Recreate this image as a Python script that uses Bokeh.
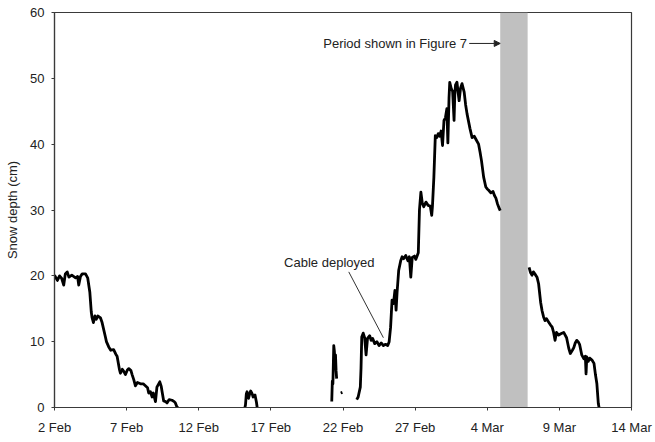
from bokeh.plotting import figure
from bokeh.models import Range1d, FixedTicker, BoxAnnotation, Arrow, NormalHead, Label
from bokeh.embed import file_html
from bokeh.resources import INLINE

NAN = float("nan")

# days since 2 Feb; NaN separates gaps in the record
days = [0.0, 0.2, 0.35, 0.5, 0.64, 0.75, 0.88, 1.0, 1.2, 1.46, 1.6, 1.68, 1.8, 1.92, 2.15, 2.3, 2.45, 2.55,
        2.6, 2.7, 2.8, 2.9, 3.0, 3.19, 3.3, 3.53, 3.6, 3.76, 3.9, 4.1, 4.25, 4.34, 4.5, 4.57, 4.7, 4.8, 4.92,
        5.05, 5.15, 5.3, 5.38, 5.5, 5.61, 5.75, 5.96, 6.15, 6.3, 6.45, 6.53, 6.65, 6.77, 6.85, 7.0, 7.1, 7.3,
        7.4, 7.46, 7.57, 7.7, 7.8, 7.95, 8.15, 8.3, 8.38, 8.5, 8.6, NAN,
        13.2, 13.24, 13.3, 13.35, 13.45, 13.52, 13.6, 13.7, 13.77, 13.9, 14.0, 14.05, NAN,
        19.22, 19.26, 19.3, 19.36, 19.4, 19.44, 19.48, 19.52, 19.56, NAN,
        19.84, 19.96, NAN,
        20.95, 21.05, 21.2, 21.25, 21.3, 21.4, 21.5, 21.6, 21.7, 21.85, 21.95, 22.05, 22.2, 22.35, 22.5, 22.65,
        22.8, 22.95, 23.1, 23.2, 23.3, 23.4, 23.5, 23.6, 23.68, 23.75, 23.86, 24.0, 24.1, 24.2, 24.35, 24.5,
        24.6, 24.7, 24.8, 24.95, 25.05, 25.15, 25.22, 25.3, 25.4, 25.5, 25.6, 25.75, 25.9, 26.05, 26.15, 26.2,
        26.3, 26.4, 26.5, 26.6, 26.7, 26.8, 26.9, 27.0, 27.1, 27.2, 27.27, 27.35, 27.4, 27.5, 27.6, 27.7,
        27.75, 27.8, 27.9, 28.0, 28.05, 28.15, 28.25, 28.4, 28.5, 28.6, 28.7, 28.8, 28.95, 29.1, 29.25, 29.4,
        29.5, 29.6, 29.75, 29.9, 30.0, 30.1, 30.25, 30.4, 30.5, 30.6, 30.7, 30.8, 30.9, NAN,
        32.9, 33.0, 33.1, 33.2, 33.3, 33.45, 33.56, 33.7, 33.8, 33.9, 34.0, 34.1, 34.25, 34.4, 34.5, 34.6,
        34.7, 34.8, 34.95, 35.1, 35.3, 35.5, 35.65, 35.76, 35.9, 36.0, 36.1, 36.2, 36.3, 36.4, 36.55, 36.7,
        36.8, 36.85, 36.9, 37.0, 37.1, 37.26, 37.4, 37.5, 37.6, 37.7, 37.75]

depth = [20.1, 19.3, 20.0, 19.6, 18.6, 20.3, 20.6, 19.8, 20.1, 19.7, 19.9, 18.6, 19.9, 20.3, 20.3, 19.7, 17.5, 14.5,
         13.7, 12.9, 13.9, 13.4, 13.9, 13.6, 12.9, 10.7, 10.0, 9.2, 8.7, 8.8, 8.1, 7.8, 5.8, 5.2, 5.8, 5.5, 5.0,
         5.7, 5.9, 5.6, 5.0, 4.2, 3.3, 3.8, 3.6, 3.6, 3.3, 3.0, 2.2, 2.4, 1.6, 2.2, 0.9, 3.1, 3.9,
         3.2, 2.4, 1.0, 0.9, 0.7, 1.2, 1.1, 0.9, 0.7, 0.0, 0.0, NAN,
         0.0, 0.4, 2.1, 2.4, 1.4, 2.0, 2.5, 2.1, 1.6, 1.9, 0.8, 0.0, NAN,
         0.9, 4.0, 3.6, 9.4, 8.6, 7.0, 8.0, 5.6, 4.4, NAN,
         2.2, 2.3, NAN,
         1.2, 1.6, 3.1, 6.0, 10.7, 11.3, 10.6, 8.0, 10.5, 10.9, 10.2, 10.5, 9.7, 10.0, 9.4, 9.8,
         9.4, 9.6, 9.4, 10.0, 12.2, 16.3, 15.8, 17.8, 14.8, 17.5, 20.8, 22.3, 22.9, 22.6, 23.1, 22.3,
         22.9, 19.8, 22.8, 23.0, 22.5, 23.1, 23.5, 30.0, 32.7, 31.0, 30.5, 31.2, 30.7, 30.6, 29.2, 30.5,
         35.0, 41.3, 41.0, 41.6, 41.2, 42.0, 39.8, 43.6, 44.0, 45.4, 40.2, 47.0, 49.4, 48.5, 48.0, 43.6,
         47.5, 49.0, 49.4, 47.5, 46.6, 48.5, 49.2, 47.9, 46.0, 44.6, 43.5, 42.4, 41.0, 41.2, 40.6, 40.0,
         38.8, 37.5, 35.0, 33.5, 33.2, 33.0, 32.6, 32.8, 32.2, 31.8, 31.0, 30.4, 29.9, NAN,
         21.3, 20.5, 20.1, 20.6, 20.3, 19.8, 18.8, 16.0, 14.7, 13.8, 13.2, 13.5, 13.0, 12.5, 12.2, 11.4,
         10.2, 11.4, 11.0, 11.2, 11.4, 10.6, 9.0, 8.2, 8.7, 9.1, 9.8, 10.2, 10.0, 9.6, 8.0, 7.4,
         7.8, 5.1, 7.7, 7.0, 7.5, 7.2, 6.7, 5.0, 3.6, 0.6, 0.0]

x_ticks = [0, 5, 10, 15, 20, 25, 30, 35, 40]
x_tick_labels = ["2 Feb", "7 Feb", "12 Feb", "17 Feb", "22 Feb", "27 Feb", "4 Mar", "9 Mar", "14 Mar"]
y_ticks = [0, 10, 20, 30, 40, 50, 60]

period_start, period_end = 30.9, 32.8
period_label = "Period shown in Figure 7"
cable_label = "Cable deployed"
cable_point = (22.8, 10.6)

FONT = "Liberation Sans"
FS = "13px"

p = figure(width=655, height=442, output_backend="svg", toolbar_location=None,
           x_range=Range1d(0, 40), y_range=Range1d(0, 60),
           min_border_left=54, min_border_right=24, min_border_top=12, min_border_bottom=35)
p.grid.visible = False
p.outline_line_color = "#3a3a3a"
p.outline_line_width = 1.2
p.background_fill_color = "white"
p.border_fill_color = "white"

p.add_layout(BoxAnnotation(left=period_start, right=period_end, fill_color="#c0c0c0",
                           fill_alpha=1.0, line_color=None, level="underlay"))

p.line(days, depth, line_color="black", line_width=2.8, line_join="round")

for ax in (p.xaxis[0], p.yaxis[0]):
    ax.axis_line_color = "#3a3a3a"
    ax.axis_line_width = 1.2
    ax.major_tick_line_color = "#3a3a3a"
    ax.major_tick_in = 0
    ax.major_tick_out = 3
    ax.minor_tick_line_color = None
    ax.major_label_text_font = FONT
    ax.major_label_text_font_size = FS
    ax.major_label_text_color = "#222222"

p.xaxis.ticker = FixedTicker(ticks=x_ticks)
p.xaxis.major_label_overrides = {t: l for t, l in zip(x_ticks, x_tick_labels)}
p.xaxis.major_label_standoff = 9
p.yaxis.ticker = FixedTicker(ticks=y_ticks)
p.yaxis.major_label_standoff = 7
p.yaxis.axis_label = "Snow depth (cm)"
p.yaxis.axis_label_text_font = FONT
p.yaxis.axis_label_text_font_style = "normal"
p.yaxis.axis_label_text_font_size = FS
p.yaxis.axis_label_text_color = "#222222"
p.yaxis.axis_label_standoff = 7

p.add_layout(Label(x=28.6, y=55.3, text=period_label, text_font=FONT, text_font_size=FS,
                   text_color="#222222", text_align="right", text_baseline="middle"))
p.add_layout(Arrow(end=NormalHead(size=6, fill_color="#222222", line_color="#222222"),
                   x_start=28.75, y_start=55.3, x_end=period_start, y_end=55.3,
                   line_color="#222222", line_width=1))

p.add_layout(Label(x=19.05, y=22.0, text=cable_label, text_font=FONT, text_font_size=FS,
                   text_color="#222222", text_align="center", text_baseline="middle"))
p.segment(x0=[20.4], y0=[20.6], x1=[cable_point[0]], y1=[cable_point[1]],
          line_color="#333333", line_width=1)

open("out.html", "w").write(file_html(p, INLINE))
